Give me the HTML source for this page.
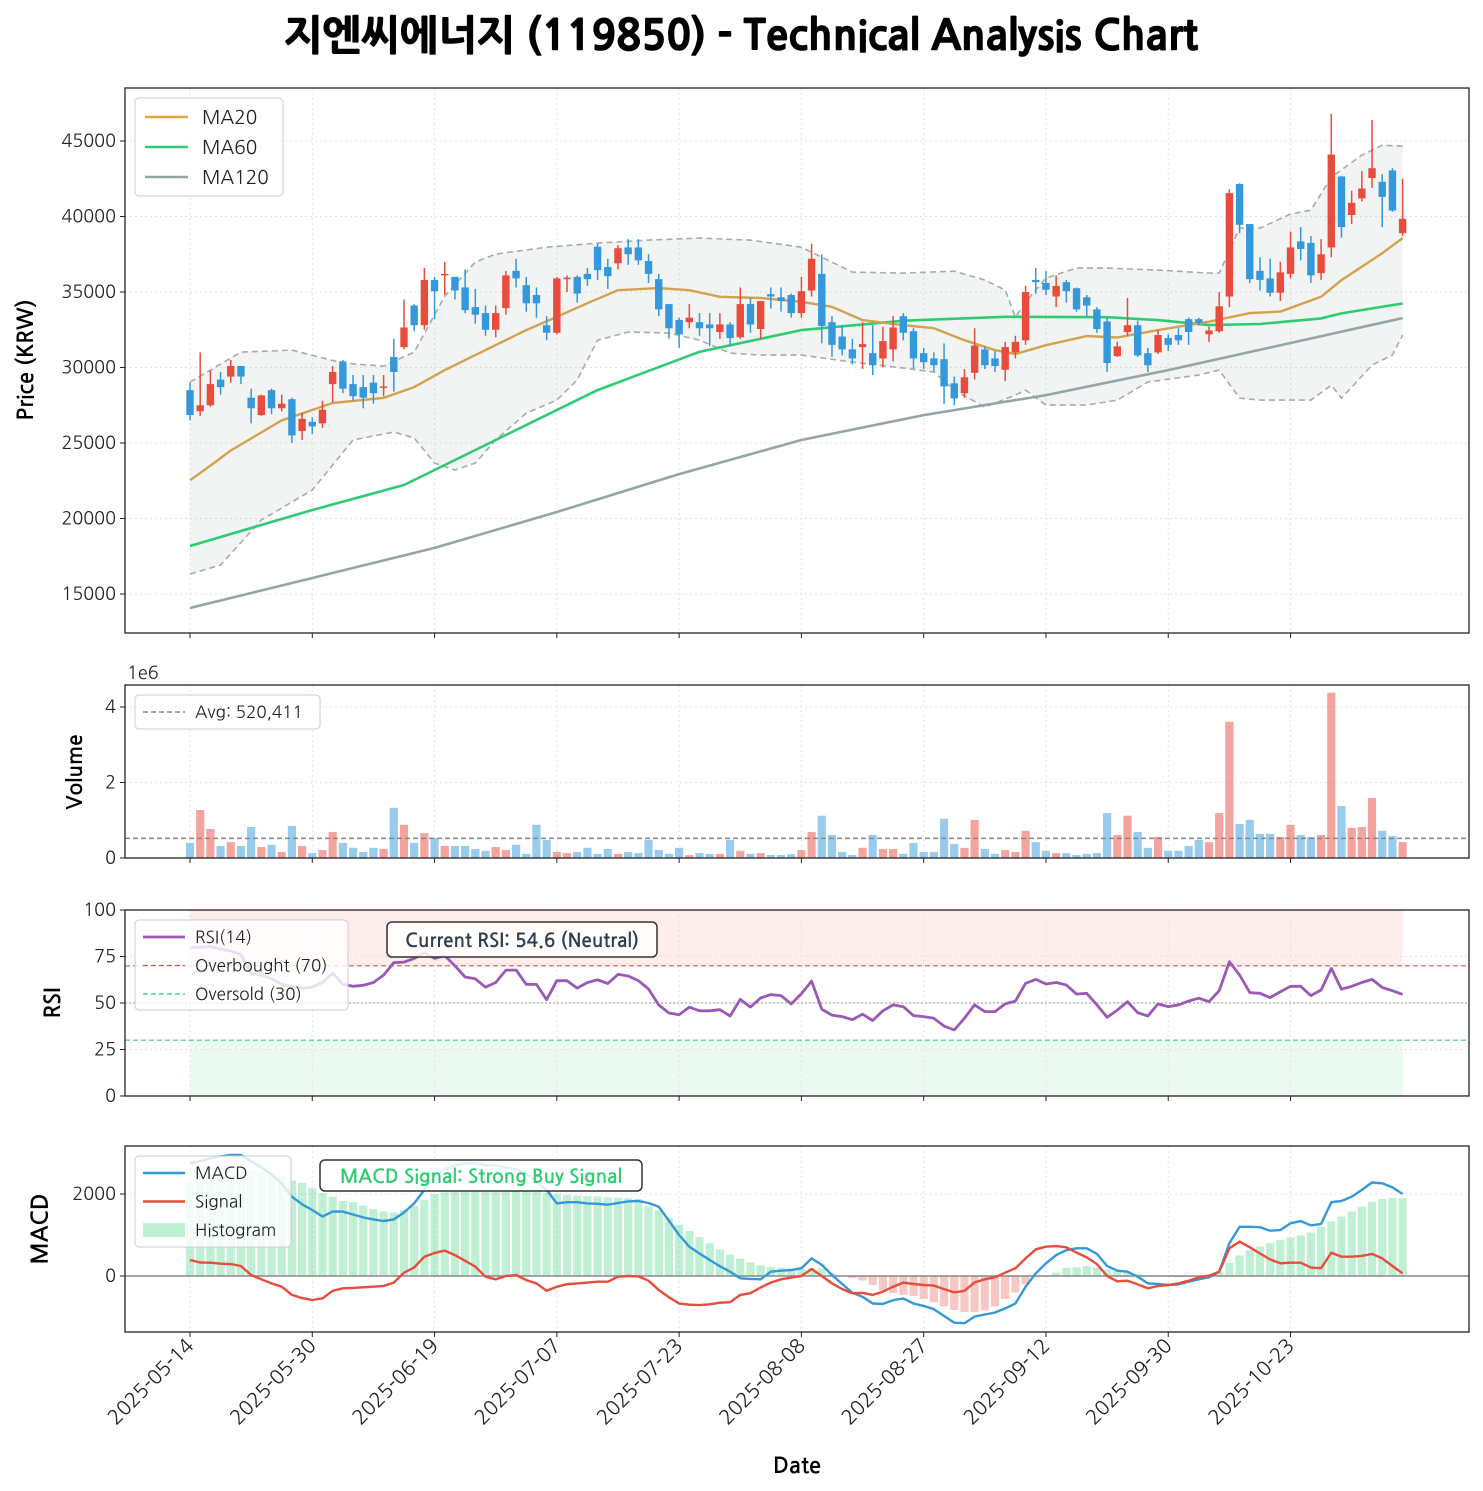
<!DOCTYPE html>
<html><head><meta charset="utf-8">
<style>
html,body{margin:0;padding:0;background:#fff;}
svg{display:block;font-family:"NanumGothic","Liberation Sans","Noto Sans CJK KR",sans-serif;}
</style></head>
<body>
<svg id="chart" width="1483" height="1491" viewBox="0 0 1483 1491" xmlns="http://www.w3.org/2000/svg">
<text x="741" y="50" text-anchor="middle" font-size="41" font-weight="900" stroke="#000" stroke-width="0.6" font-family="NanumGothic, 'Noto Sans CJK KR', sans-serif" fill="#000">지엔씨에너지 (119850) - Technical Analysis Chart</text>
</svg>
<script>
// ---------- DATA ----------
const dates = ["2025-05-14","2025-05-30","2025-06-19","2025-07-07","2025-07-23","2025-08-08","2025-08-27","2025-09-12","2025-09-30","2025-10-23"];
const dateIdx = [0,12,24,36,48,60,72,84,96,108];
const opens = [28500,27100,27500,29200,29400,30100,28000,26850,28500,27300,27900,25800,26400,26300,28900,30400,28900,28700,29000,28650,30700,31350,34100,32800,35800,36100,36000,35300,34000,33600,32500,33930,36400,35450,34800,32800,32300,35850,36000,36200,38000,36650,36900,37950,37950,37050,35850,34200,33150,33000,33000,32850,32350,32850,32000,34200,32550,34850,34650,34800,33600,35100,36200,33000,32050,31200,31350,30950,30600,31200,33400,32400,30950,30600,30550,28950,28300,29650,31200,30600,29850,31000,31800,35800,35600,34700,35650,35250,34650,33850,33050,30750,32350,32800,30950,31000,31950,32150,33200,33200,32200,32400,34700,42150,39500,36400,35900,34950,36200,38350,38250,36250,37950,42650,40100,41200,42550,42300,43050,38900];
const closes = [26850,27500,28900,28700,30100,29400,27300,28150,27300,27600,25500,26600,26100,27200,29700,28600,28100,28000,28300,28750,29700,32650,32800,35800,35050,36200,35100,33800,33500,32500,33600,36100,35900,34250,34250,32300,35900,35950,34900,35850,36450,36050,37900,37500,37100,36200,33850,32600,32200,33300,32600,32600,32850,31950,34200,32850,34400,34700,34400,33600,35050,37200,32750,31500,31200,30600,31550,30150,31750,32650,32300,30600,30350,30150,28750,27950,29350,31450,30150,30100,31350,31700,35000,35650,35150,35400,35050,33850,34100,32550,30300,31400,32800,30800,30150,32150,31500,31800,32350,32950,32450,34050,41550,39450,35850,35800,34950,36300,37950,37850,36100,37500,44100,39300,40900,41850,43200,41300,40400,39850];
const highs = [29000,31000,29800,29700,30500,30100,28600,28200,28600,28200,28000,27000,26700,27800,30100,30500,29500,29500,29500,29500,31900,34500,34200,36600,36000,37000,36000,36500,35200,34100,34100,36400,37200,36000,35300,33400,36000,36100,36100,36600,38200,37200,38100,38500,38500,37500,36200,34200,33300,34200,33600,33600,33600,33000,35300,34600,34400,35300,35300,34900,36000,38200,37500,33400,32800,31900,33000,32800,32700,33400,33600,32600,31300,31000,31600,29400,29900,32600,31400,31100,31700,32100,35400,36600,36400,36100,35800,35300,34800,34000,33300,31700,34600,33100,31300,32500,32200,32600,33300,33300,32700,35000,41800,42200,39500,37300,37200,37000,39000,39300,38700,38500,46800,42700,41700,43000,46400,42800,43200,42500];
const lows = [26500,26800,27400,28200,29000,28900,26300,26800,26900,27100,25000,25200,25600,26000,27700,28300,27800,27300,27600,28100,28400,31200,32400,32500,33200,34800,34500,33600,32900,32100,32000,33500,35300,33700,33300,31800,32200,35000,34300,35400,35800,35200,36500,36800,36800,35600,33400,31900,31300,32600,32100,31400,31900,31400,31900,32300,31900,33900,33700,33300,33300,34700,31600,30700,30800,30200,29900,29500,30000,30400,31800,29900,29900,29700,27600,27500,28000,29200,29900,29700,29100,30600,31500,34900,34800,34000,34300,33700,33400,32300,29700,30700,32100,30700,29700,30900,31100,31500,31500,32800,31700,32300,34000,38900,35600,35100,34700,34400,35900,37100,35600,35800,37300,38600,39500,41000,41900,39300,40300,38700];
const volumesM = [0.40,1.27,0.77,0.32,0.42,0.32,0.82,0.29,0.35,0.16,0.85,0.32,0.13,0.21,0.69,0.40,0.27,0.16,0.27,0.24,1.33,0.88,0.40,0.66,0.53,0.32,0.32,0.32,0.24,0.19,0.29,0.21,0.35,0.11,0.88,0.48,0.16,0.13,0.16,0.27,0.11,0.24,0.11,0.16,0.13,0.48,0.21,0.11,0.27,0.08,0.13,0.11,0.11,0.48,0.19,0.11,0.13,0.08,0.08,0.10,0.21,0.69,1.12,0.61,0.16,0.08,0.27,0.61,0.24,0.24,0.11,0.40,0.16,0.16,1.04,0.37,0.27,1.01,0.24,0.11,0.21,0.16,0.72,0.42,0.19,0.13,0.13,0.08,0.11,0.13,1.19,0.61,1.12,0.69,0.27,0.56,0.19,0.19,0.32,0.48,0.42,1.19,3.61,0.90,1.01,0.64,0.64,0.56,0.88,0.61,0.56,0.61,4.38,1.38,0.80,0.82,1.59,0.72,0.58,0.42];
const avgVolume = 520411;
const ma20Idx = [0,2,4,6,9,14,19,22,25,28,33,36,39,42,46,49,52,56,60,63,66,70,73,76,79,81,84,88,91,95,100,104,107,111,113,117,119];
const ma20 = [22530,23500,24500,25300,26500,27650,27990,28700,29830,30820,32480,33360,34260,35120,35260,35120,34680,34600,34350,34020,33140,32800,32600,31810,31150,30890,31480,32080,31990,32480,33030,33600,33700,34680,35790,37570,38570];
const ma60Idx = [0,12,21,30,40,50,60,70,80,90,95,100,105,111,113,119];
const ma60 = [18180,20560,22220,25200,28500,31040,32480,33100,33360,33330,33140,32810,32880,33250,33580,34240];
const ma120Idx = [0,12,24,36,48,60,72,84,96,108,119];
const ma120 = [14070,16060,18050,20430,22940,25200,26850,28170,29830,31620,33270];
const bbUpIdx = [0,5,10,15,19,22,25,28,30,35,40,45,50,55,60,65,70,75,78,80,81,82,84,87,90,95,100,101,103,105,108,110,112,115,117,119];
const bbUp = [29030,31020,31150,30290,30090,31020,34730,36980,37510,37970,38240,38440,38570,38440,37970,36320,36250,36380,35790,35130,33340,34330,35930,36580,36580,36450,36250,36250,39230,39230,40160,40420,42600,44060,44720,44660];
const bbLowIdx = [0,3,7,12,16,20,22,24,26,28,30,33,36,38,40,43,47,50,53,56,60,65,70,73,75,78,81,82,84,88,91,94,99,101,103,105,110,112,113,116,118,119];
const bbLow = [16320,16920,19900,21890,25200,25730,25330,23670,23210,23670,25200,26980,27840,29170,31810,32350,32280,31810,30950,30820,30820,30360,29960,29700,28500,27380,28170,28500,27510,27510,27840,29040,29500,29830,27970,27840,27840,28830,27970,30160,30820,32150];
const rsi = [79.6,80,80.5,79,78,76,66,65,63,60,58.8,58,58.5,61,66,60,59,59.5,61,65,71.7,72,74,77,74,75.5,70,64,63,58.5,61,67.7,67.7,60,60,51.8,62,62,58,61,62.5,60.5,65.4,64.5,62,57.5,49,44.6,43.7,47.8,45.8,45.8,46.4,43,52,47.8,52.7,54.5,54,49.5,55,61.8,46.6,43.5,42.7,41,44,40.6,45.8,49,48,43.2,42.7,41.8,37.6,35.5,41.8,49,45.4,45.4,49.5,51,60.6,62.7,60.2,61,59.7,54.8,55.2,49,42.3,46.2,50.7,44.8,43,49.5,48,49,51,52.6,50.7,56.6,72.2,65,55.6,55.2,52.9,56,59,59,54,57,68.6,57.4,59,61,62.7,58.4,56.6,54.6];
const macd = [2750,2800,2870,2920,2950,2950,2800,2650,2480,2250,1935,1750,1610,1450,1570,1570,1500,1430,1380,1340,1380,1550,1770,2100,2450,2600,2700,2750,2750,2700,2700,2650,2600,2500,2300,2100,1770,1800,1800,1770,1760,1740,1780,1820,1830,1780,1690,1350,1000,715,550,390,240,105,-57,-70,-80,105,130,145,190,430,270,25,-195,-410,-505,-670,-680,-590,-550,-670,-730,-810,-975,-1140,-1150,-990,-940,-890,-790,-670,-260,65,310,510,630,675,675,540,245,130,105,-16,-180,-195,-220,-205,-140,-80,-30,105,800,1200,1200,1190,1105,1120,1285,1340,1235,1270,1800,1830,1935,2100,2280,2260,2160,2000];
const signal = [390,330,325,300,290,244,24,-80,-180,-260,-460,-540,-585,-545,-360,-300,-290,-276,-260,-245,-160,80,210,470,560,620,510,370,230,-16,-80,0,25,-100,-180,-360,-260,-200,-180,-160,-140,-140,-16,0,-10,-115,-340,-520,-670,-700,-710,-690,-650,-640,-460,-420,-280,-160,-80,-40,0,170,0,-180,-320,-420,-410,-460,-380,-260,-160,-195,-220,-235,-320,-400,-360,-155,-80,-30,80,190,430,650,715,730,700,570,455,290,0,-130,-115,-205,-300,-245,-220,-180,-115,-30,8,105,675,840,700,550,405,310,325,325,205,190,570,470,470,490,540,430,245,65];
const hist = [2300,2620,2640,2620,2600,2620,2580,2540,2480,2420,2330,2270,2140,2020,1935,1830,1800,1715,1630,1570,1550,1610,1710,1850,2000,2040,2060,2060,2060,2060,2060,2060,2060,2060,2060,2030,2000,1980,1960,1950,1940,1920,1910,1900,1880,1700,1600,1420,1250,1100,950,800,650,520,420,330,260,220,200,180,170,180,190,70,0,-50,-110,-220,-350,-420,-460,-490,-560,-640,-740,-830,-880,-880,-840,-740,-560,-400,-200,-30,0,80,200,210,240,200,160,120,80,50,20,0,-20,-30,-20,-10,0,100,320,500,630,720,800,880,940,990,1060,1200,1330,1450,1570,1690,1810,1880,1900,1900];
const priceTicks = [15000,20000,25000,30000,35000,40000,45000];
const volTicks = [0,2,4];
const rsiTicks = [0,25,50,75,100];
const macdTicks = [0,2000];

// ---------- LAYOUT ----------
const NS = "http://www.w3.org/2000/svg";
const svg = document.getElementById('chart');
const X0 = 125, X1 = 1469;
const xPos = i => 190 + i * 10.19;
const pY = v => 594 - (v - 15000) * 0.0151;
const vY = m => 858 - m * 37.75;
const rY = v => 1096 - v * 1.86;
const mY = v => 1276 - v * 0.041;
const RED = "#e74c3c", BLUE = "#3498db";

function mk(tag, attrs, parent) {
  const el = document.createElementNS(NS, tag);
  for (const k in attrs) el.setAttribute(k, attrs[k]);
  (parent || svg).appendChild(el);
  return el;
}
function txt(s, attrs, parent) { const t = mk('text', attrs, parent); t.textContent = s; return t; }

const panels = [
  {name:'price', top:88, bot:633},
  {name:'volume', top:685, bot:858},
  {name:'rsi', top:910, bot:1096},
  {name:'macd', top:1146, bot:1332}
];

function grid(p, yTicks, yFn) {
  const g = mk('g', {});
  
  
  dateIdx.forEach(i => mk('line', {x1:xPos(i), x2:xPos(i), y1:p.top, y2:p.bot, stroke:'#e3e3e3', 'stroke-width':1, 'stroke-dasharray':'2,3'}, g));
  yTicks.forEach(t => mk('line', {x1:X0, x2:X1, y1:yFn(t), y2:yFn(t), stroke:'#e3e3e3', 'stroke-width':1, 'stroke-dasharray':'2,3'}, g));
}
function frame(p, yTicks, yFn, labelFn) {
  const f = mk('rect', {x:X0, y:p.top, width:X1-X0, height:p.bot-p.top, fill:'none', stroke:'#222', 'stroke-width':1.3});
  
  
  const g = mk('g', {});
  
  
  yTicks.forEach(t => {
    mk('line', {x1:X0-5, x2:X0, y1:yFn(t), y2:yFn(t), stroke:'#222', 'stroke-width':1}, g);
    txt(labelFn(t), {x:X0-9, y:yFn(t)+6, 'text-anchor':'end', 'font-size':18, fill:'#222'}, g);
  });
  const gx = mk('g', {});
  
  
  dateIdx.forEach(i => mk('line', {x1:xPos(i), x2:xPos(i), y1:p.bot, y2:p.bot+5, stroke:'#222', 'stroke-width':1}, gx));
}
function poly(idx, vals, yFn, attrs, name) {
  const pts = vals.map((v, k) => xPos(idx ? idx[k] : k).toFixed(1) + ',' + yFn(v).toFixed(1)).join(' ');
  const el = mk('polyline', Object.assign({points:pts, fill:'none', 'stroke-linejoin':'round'}, attrs));
  
  
  return el;
}
function legendBox(x, y, w, h, name) {
  const r = mk('rect', {x:x, y:y, width:w, height:h, rx:4, fill:'#fff', 'fill-opacity':0.8, stroke:'#ccc', 'stroke-width':1});
  
  
}

// ---------- PRICE ----------
const P = panels[0];
grid(P, priceTicks, pY);
{
  const up = bbUp.map((v,k)=>xPos(bbUpIdx[k]).toFixed(1)+','+pY(v).toFixed(1));
  const lo = bbLow.map((v,k)=>xPos(bbLowIdx[k]).toFixed(1)+','+pY(v).toFixed(1)).reverse();
  const band = mk('polygon', {points: up.concat(lo).join(' '), fill:'#95a5a6', 'fill-opacity':0.12, stroke:'none'});
  
  
}
poly(bbUpIdx, bbUp, pY, {stroke:'#aaa', 'stroke-width':1.6, 'stroke-dasharray':'6,4'}, 'bollinger-upper');
poly(bbLowIdx, bbLow, pY, {stroke:'#aaa', 'stroke-width':1.6, 'stroke-dasharray':'6,4'}, 'bollinger-lower');
poly(ma120Idx, ma120, pY, {stroke:'#95a5a6', 'stroke-width':2.6}, 'ma120-line');
poly(ma60Idx, ma60, pY, {stroke:'#2ecc71', 'stroke-width':2.6}, 'ma60-line');
poly(ma20Idx, ma20, pY, {stroke:'#d4a14e', 'stroke-width':2.4}, 'ma20-line');
{
  const g = mk('g', {});
  
  
  opens.forEach((o, i) => {
    const c = closes[i], up = c >= o, col = up ? RED : BLUE, x = xPos(i);
    const w = mk('line', {x1:x, x2:x, y1:pY(highs[i]), y2:pY(lows[i]), stroke:col, 'stroke-width':1.5}, g);
    
    
    const top = pY(Math.max(o, c)), bh = Math.max(1.2, Math.abs(pY(o) - pY(c)));
    const b = mk('rect', {x:x-3.7, y:top, width:7.4, height:bh, fill:col}, g);
    
    
  });
}
frame(P, priceTicks, pY, t => String(t));
{
  const t = txt('Price (KRW)', {x:0, y:0, transform:'translate(33,360) rotate(-90)', 'text-anchor':'middle', 'font-size':22, 'font-weight':'bold', fill:'#000'});
  
  
  legendBox(135, 98, 148, 98, 'price-legend');
  const items = [['MA20','#e8a33d'],['MA60','#2ecc71'],['MA120','#95a5a6']];
  items.forEach((it, k) => {
    const y = 117 + k * 30;
    const l = mk('line', {x1:145, x2:188, y1:y, y2:y, stroke:it[1], 'stroke-width':2.6});
    
    
    const tt = txt(it[0], {x:202, y:y+7, 'font-size':19, fill:'#222'});
    
    
  });
}

// ---------- VOLUME ----------
const V = panels[1];
grid(V, volTicks, vY);
{
  const g = mk('g', {});
  
  
  volumesM.forEach((m, i) => {
    const col = closes[i] >= opens[i] ? RED : BLUE;
    const r = mk('rect', {x:xPos(i)-4.1, y:vY(m), width:8.2, height:858 - vY(m), fill:col, 'fill-opacity':0.5}, g);
    
    
  });
  const a = mk('line', {x1:X0, x2:X1, y1:vY(avgVolume/1e6), y2:vY(avgVolume/1e6), stroke:'#7f8c8d', 'stroke-width':1.5, 'stroke-dasharray':'5,3'});
  
  
}
frame(V, volTicks, vY, t => String(t));
{
  const e = txt('1e6', {x:127, y:679, 'font-size':18, fill:'#222'});
  
  
  const t = txt('Volume', {x:0, y:0, transform:'translate(82,772) rotate(-90)', 'text-anchor':'middle', 'font-size':21, 'font-weight':'bold', fill:'#000'});
  
  
  legendBox(135, 695, 185, 34, 'volume-legend');
  const l = mk('line', {x1:143, x2:185, y1:712, y2:712, stroke:'#7f8c8d', 'stroke-width':1.5, 'stroke-dasharray':'5,3'});
  
  
  const tt = txt('Avg: 520,411', {x:195, y:718, 'font-size':17, fill:'#222'});
  
  
}

// ---------- RSI ----------
const R = panels[2];
{
  const ob = mk('rect', {x:xPos(0), y:rY(100), width:xPos(119)-xPos(0), height:rY(70)-rY(100), fill:'#e74c3c', 'fill-opacity':0.1});
  
  
  const os = mk('rect', {x:xPos(0), y:rY(30), width:xPos(119)-xPos(0), height:rY(0)-rY(30), fill:'#2ecc71', 'fill-opacity':0.1});
  
  
}
grid(R, rsiTicks, rY);
{
  const l70 = mk('line', {x1:X0, x2:X1, y1:rY(70), y2:rY(70), stroke:'#e74c3c', 'stroke-width':1.3, 'stroke-dasharray':'5,3', 'stroke-opacity':0.8});
  
  
  const l30 = mk('line', {x1:X0, x2:X1, y1:rY(30), y2:rY(30), stroke:'#2ecc71', 'stroke-width':1.3, 'stroke-dasharray':'5,3', 'stroke-opacity':0.8});
  
  
  const l50 = mk('line', {x1:X0, x2:X1, y1:rY(50), y2:rY(50), stroke:'#aaa', 'stroke-width':1.2, 'stroke-dasharray':'2,2'});
  
  
}
poly(null, rsi, rY, {stroke:'#9b59b6', 'stroke-width':2.8}, 'rsi-line');
frame(R, rsiTicks, rY, t => String(t));
{
  const t = txt('RSI', {x:0, y:0, transform:'translate(60,1003) rotate(-90)', 'text-anchor':'middle', 'font-size':22, 'font-weight':'bold', fill:'#000'});
  
  
  legendBox(135, 920, 213, 90, 'rsi-legend');
  const items = [['RSI(14)','#9b59b6','',2.8],['Overbought (70)','#e74c3c','5,3',1.3],['Oversold (30)','#2ecc71','5,3',1.3]];
  items.forEach((it, k) => {
    const y = 937 + k * 28.5;
    const l = mk('line', {x1:143, x2:185, y1:y, y2:y, stroke:it[1], 'stroke-width':it[3], 'stroke-dasharray':it[2] || 'none'});
    
    
    const tt = txt(it[0], {x:195, y:y+6, 'font-size':17, fill:'#222'});
    
    
  });
  const b = mk('rect', {x:387, y:922, width:270, height:35, rx:5, fill:'#fff', 'fill-opacity':0.85, stroke:'#333', 'stroke-width':1.5});
  
  
  const a = txt('Current RSI: 54.6 (Neutral)', {x:522, y:947, 'text-anchor':'middle', 'font-size':19, 'font-weight':'bold', fill:'#2c3e50'});
  
  
}

// ---------- MACD ----------
const M = panels[3];
grid(M, macdTicks, mY);
{
  const g = mk('g', {});
  
  
  hist.forEach((h, i) => {
    const col = h >= 0 ? '#2ecc71' : '#e74c3c';
    const y = Math.min(mY(h), mY(0)), hh = Math.abs(mY(h) - mY(0));
    const r = mk('rect', {x:xPos(i)-4.1, y:y, width:8.2, height:hh, fill:col, 'fill-opacity':0.3}, g);
    
    
  });
  const z = mk('line', {x1:X0, x2:X1, y1:mY(0), y2:mY(0), stroke:'#888', 'stroke-width':1.4});
  
  
}
poly(null, macd, mY, {stroke:'#3498db', 'stroke-width':2.4}, 'macd-line');
poly(null, signal, mY, {stroke:'#e74c3c', 'stroke-width':2.4}, 'signal-line');
frame(M, macdTicks, mY, t => String(t));
{
  const t = txt('MACD', {x:0, y:0, transform:'translate(48,1229) rotate(-90)', 'text-anchor':'middle', 'font-size':23, 'font-weight':'bold', fill:'#000'});
  
  
  legendBox(135, 1156, 156, 91, 'macd-legend');
  const items = [['MACD','#3498db'],['Signal','#e74c3c'],['Histogram','#2ecc71']];
  items.forEach((it, k) => {
    const y = 1173 + k * 28.5;
    let sw;
    if (k < 2) sw = mk('line', {x1:143, x2:185, y1:y, y2:y, stroke:it[1], 'stroke-width':2.4});
    else sw = mk('rect', {x:143, y:y-7, width:42, height:14, fill:it[1], 'fill-opacity':0.3});
    
    
    const tt = txt(it[0], {x:195, y:y+6, 'font-size':17, fill:'#222'});
    
    
  });
  const b = mk('rect', {x:320, y:1160, width:322, height:31, rx:5, fill:'#fff', 'fill-opacity':0.85, stroke:'#333', 'stroke-width':1.5});
  
  
  const a = txt('MACD Signal: Strong Buy Signal', {x:481, y:1183, 'text-anchor':'middle', 'font-size':19, 'font-weight':'bold', fill:'#2ecc71'});
  
  
}

// ---------- X AXIS ----------
{
  const g = mk('g', {});
  
  
  dates.forEach((d, k) => {
    const x = xPos(dateIdx[k]);
    const t = txt(d, {x:0, y:0, transform:`translate(${x+5},${1347}) rotate(-45)`, 'text-anchor':'end', 'font-size':20, fill:'#222'}, g);
    
    
  });
  const t = txt('Date', {x:797, y:1473, 'text-anchor':'middle', 'font-size':22, 'font-weight':'bold', fill:'#000'});
  
  
}
</script>
</body></html>
